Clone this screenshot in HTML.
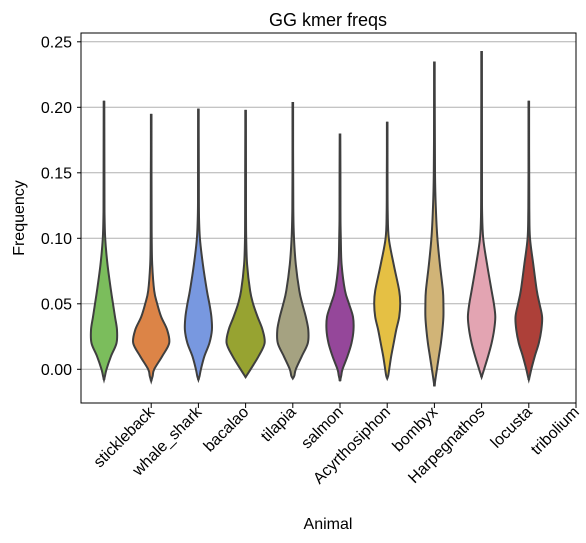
<!DOCTYPE html>
<html><head><meta charset="utf-8"><style>
body{margin:0;background:#fff}
svg{display:block;font-family:"Liberation Sans",sans-serif}
</style></head><body>
<svg id="chart" width="586" height="543">
<rect x="0" y="0" width="586" height="543" fill="#fff"/>
<text x="328" y="26" text-anchor="middle" font-size="18" fill="#000">GG kmer freqs</text>
<text transform="translate(24,218) rotate(-90)" text-anchor="middle" font-size="16">Frequency</text>
<text x="328" y="529" text-anchor="middle" font-size="16">Animal</text>
<g id="grid"></g><g id="violins"></g><g id="axes"></g>
</svg>
<script>
const categories=["stickleback","whale_shark","bacalao","tilapia","salmon","Acyrthosiphon","bombyx","Harpegnathos","locusta","tribolium"];
const colors=["#7bbd5c","#dc8447","#7898e0","#97a331","#a5a281","#95479a","#e5c044","#d1b477","#e3a4b2","#ad4039"];
const yTicks=[0,0.05,0.10,0.15,0.20,0.25];
const yTickLabels=["0.00","0.05","0.10","0.15","0.20","0.25"];
const levels=[-0.005,0,0.01,0.02,0.03,0.04,0.05,0.06,0.08,0.10,0.12,0.15];
const mins=[-0.008,-0.009,-0.008,-0.006,-0.007,-0.009,-0.007,-0.013,-0.006,-0.008];
const maxs=[0.205,0.195,0.199,0.198,0.204,0.180,0.189,0.235,0.243,0.205];
const w0=[1,2.5,7,12.5,13,11,9,7,3.5,1.2,0.5,0.3];
const w1=[1.5,3,11,18,16,10,6,3,1,0.5,0.4,0.3];
const w2=[1.2,2.5,6,11,13.5,13,11,8.5,4.5,1.5,0.5,0.3];
const w3=[2,5,13,19,17,12,7.5,4.5,1.5,0.6,0.4,0.3];
const w4=[1.5,3,9,15,15.5,13,9.5,6.5,3,1.2,0.5,0.3];
const w5=[1.2,2.5,7.5,11.5,13.5,13,9,5,1.6,0.8,0.4,0.3];
const w6=[1,2,4,6.5,9,12,13,12,6.5,1.6,0.5,0.3];
const w7=[1.5,2.5,4.5,6.5,8,9,9,8.5,5.5,3,1.6,0.6];
const w8=[1,2.5,6.5,10,12.5,13.7,12.3,10,5.5,1.6,0.5,0.3];
const w9=[1,2.5,6,10,12.5,13.3,10.7,8,4.5,1.2,0.5,0.3];
const widths=[w0,w1,w2,w3,w4,w5,w6,w7,w8,w9];

const NS="http://www.w3.org/2000/svg";
const L=81,R=576,T=33,B=403;
const y=v=>369.3-v*1310;
const x=i=>104+47.2*i;
function mk(tag,attrs,parent){const e=document.createElementNS(NS,tag);for(const k in attrs)e.setAttribute(k,attrs[k]);parent.appendChild(e);return e;}
const grid=document.getElementById('grid'),vg=document.getElementById('violins'),ax=document.getElementById('axes');
yTicks.forEach((t,i)=>{
  const gl=mk('line',{x1:L,x2:R,y1:y(t),y2:y(t),stroke:'#b0b0b0','stroke-width':1},grid);
  
  
  const tk=mk('line',{x1:L-4,x2:L,y1:y(t),y2:y(t),stroke:'#000','stroke-width':1},ax);
  
  
  const tl=mk('text',{x:L-9,y:y(t)+5.5,'text-anchor':'end','font-size':16},ax);
  tl.textContent=yTickLabels[i];
  
  
});
function smooth(pts){let d='M'+pts[0][0]+','+pts[0][1];
  for(let i=0;i<pts.length-1;i++){const p0=pts[Math.max(0,i-1)],p1=pts[i],p2=pts[i+1],p3=pts[Math.min(pts.length-1,i+2)];
    const c1=[p1[0]+(p2[0]-p0[0])/6,p1[1]+(p2[1]-p0[1])/6],c2=[p2[0]-(p3[0]-p1[0])/6,p2[1]-(p3[1]-p1[1])/6];
    d+=' C'+c1[0].toFixed(2)+','+c1[1].toFixed(2)+' '+c2[0].toFixed(2)+','+c2[1].toFixed(2)+' '+p2[0].toFixed(2)+','+p2[1].toFixed(2);}
  return d;}
categories.forEach((c,i)=>{
  const cx=x(i);const prof=[[mins[i],0]];
  levels.forEach((v,j)=>{if(v>mins[i]+0.001&&v<maxs[i])prof.push([v,widths[i][j]]);});
  prof.push([maxs[i],0]);
  const right=prof.map(p=>[cx+p[1],y(p[0])]);
  const left=prof.slice().reverse().map(p=>[cx-p[1],y(p[0])]);
  const d=smooth(right)+' L'+left[0][0]+','+left[0][1]+' '+smooth(left).slice(1).replace(/^[^C]*/,'')+' Z';
  const g=mk('g',{},vg);
  
  
  const wl=mk('line',{x1:cx,x2:cx,y1:y(mins[i]),y2:y(maxs[i]),stroke:'#3f3f3f','stroke-width':2.6},g);
  
  
  const p=mk('path',{d:d,fill:colors[i],stroke:'#3f3f3f','stroke-width':2},g);
  
  
  const tx=x(i+1);
  const tk=mk('line',{x1:tx,x2:tx,y1:B,y2:B+5,stroke:'#000','stroke-width':1},ax);
  
  
  const tl=mk('text',{transform:'translate('+(tx+4)+','+(B+10)+') rotate(-45)','text-anchor':'end','font-size':16},ax);
  tl.textContent=c;
  
  
});
const fr=mk('rect',{x:L,y:T,width:R-L,height:B-T,fill:'none',stroke:'#000','stroke-width':1},ax);


</script>
</body></html>
